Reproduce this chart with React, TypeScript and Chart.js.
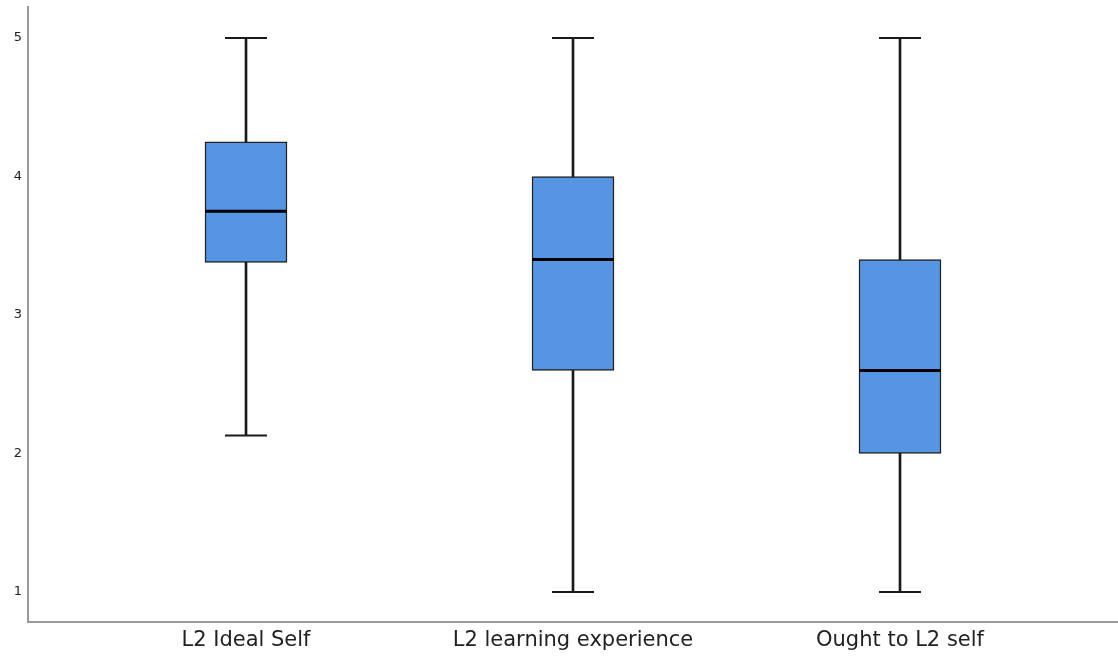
import React, { useEffect, useRef } from "react";
import { Chart, registerables } from "chart.js";

Chart.register(...registerables);

// Scale categories and their box-plot summaries
const categories = ["L2 Ideal Self", "L2 learning experience", "Ought to L2 self"];
const minValues = [2.13, 1.0, 1.0];
const q1Values = [3.38, 2.6, 2.0];
const medianValues = [3.75, 3.4, 2.6];
const q3Values = [4.25, 4.0, 3.4];
const maxValues = [5.0, 5.0, 5.0];
const yTicks = [1, 2, 3, 4, 5];

const BOX_FILL = "#5595e4";
const LINE = "#1a1a1a";
const AXIS = "#9a9a9a";
const FONT = "'DejaVu Sans', sans-serif";

export default function App() {
  const canvasRef = useRef<HTMLCanvasElement | null>(null);

  useEffect(() => {
    const ctx = canvasRef.current;
    if (!ctx) return;
    const positions = categories.map((_, i) => i + 1);

    const chart = new Chart(ctx, {
      type: "bar",
      data: {
        datasets: [
          {
            type: "line",
            label: "median",
            data: positions.map((x, i) => ({ x, y: medianValues[i] })),
            showLine: false,
            pointStyle: "line",
            pointRadius: 41,
            pointBorderWidth: 3,
            pointBorderColor: "#000",
            clip: false,
            order: 0,
          },
          {
            type: "line",
            label: "max",
            data: positions.map((x, i) => ({ x, y: maxValues[i] })),
            showLine: false,
            pointStyle: "line",
            pointRadius: 21,
            pointBorderWidth: 2,
            pointBorderColor: LINE,
            clip: false,
            order: 1,
          },
          {
            type: "line",
            label: "min",
            data: positions.map((x, i) => ({ x, y: minValues[i] })),
            showLine: false,
            pointStyle: "line",
            pointRadius: 21,
            pointBorderWidth: 2,
            pointBorderColor: LINE,
            clip: false,
            order: 1,
          },
          {
            type: "bar",
            label: "box",
            data: positions.map((x, i) => ({ x, y: [q1Values[i], q3Values[i]] })),
            backgroundColor: BOX_FILL,
            borderColor: "#222",
            borderWidth: 1.5,
            borderSkipped: false,
            barThickness: 82,
            grouped: false,
            order: 2,
          },
          {
            type: "bar",
            label: "whisker",
            data: positions.map((x, i) => ({ x, y: [minValues[i], maxValues[i]] })),
            backgroundColor: LINE,
            borderWidth: 0,
            barThickness: 2,
            grouped: false,
            order: 3,
          },
        ] as any,
      },
      options: {
        animation: false,
        responsive: false,
        maintainAspectRatio: false,
        layout: { autoPadding: false, padding: { top: 7, right: 0, left: 0, bottom: 0 } },
        plugins: {
          legend: { display: false },
          tooltip: { enabled: false },
        },
        scales: {
          x: {
            type: "linear",
            offset: false,
            min: 1 / 3,
            max: 11 / 3,
            grid: { display: false, drawTicks: false },
            border: { display: true, color: AXIS, width: 2 },
            afterBuildTicks: (scale: any) => {
              scale.ticks = positions.map((v) => ({ value: v }));
            },
            afterFit: (scale: any) => {
              scale.height = 37;
              scale.paddingLeft = 0;
              scale.paddingRight = 0;
            },
            ticks: {
              autoSkip: false,
              maxRotation: 0,
              padding: 6,
              color: "#222",
              font: { family: FONT, size: 21 },
              callback: (_v: any, i: number) => categories[i],
            },
          },
          y: {
            type: "linear",
            min: 1 - 30 / 138.5,
            max: 5 + 31 / 138.5,
            grid: { display: false, drawTicks: false },
            border: { display: true, color: AXIS, width: 2 },
            afterBuildTicks: (scale: any) => {
              scale.ticks = yTicks.map((v) => ({ value: v }));
            },
            afterFit: (scale: any) => {
              scale.width = 28;
              scale.paddingTop = 0;
              scale.paddingBottom = 0;
            },
            ticks: {
              padding: 6,
              color: "#222",
              font: { family: FONT, size: 13 },
              callback: (v: any) => String(v),
            },
          },
        },
      } as any,
    });

    return () => chart.destroy();
  }, []);

  return (
    <div style={{ position: "fixed", left: 0, top: 0, width: 1118, height: 659, background: "#fff" }}>
      <canvas ref={canvasRef} width={1118} height={659} style={{ width: 1118, height: 659 }} />
    </div>
  );
}
